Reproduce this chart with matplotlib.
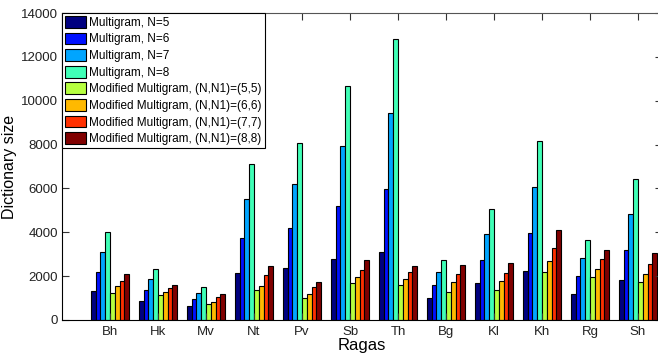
import matplotlib.pyplot as plt
import numpy as np

plt.rcParams['font.family'] = ['Liberation Sans', 'DejaVu Sans']

ragas = ['Bh', 'Hk', 'Mv', 'Nt', 'Pv', 'Sb', 'Th', 'Bg', 'Kl', 'Kh', 'Rg', 'Sh']

labels = [
    'Multigram, N=5',
    'Multigram, N=6',
    'Multigram, N=7',
    'Multigram, N=8',
    'Modified Multigram, (N,N1)=(5,5)',
    'Modified Multigram, (N,N1)=(6,6)',
    'Modified Multigram, (N,N1)=(7,7)',
    'Modified Multigram, (N,N1)=(8,8)',
]

multigram_5 = [1330, 870, 640, 2130, 2370, 2780, 3100, 1020, 1670, 2220, 1200, 1810]
multigram_6 = [2170, 1380, 960, 3750, 4210, 5180, 5970, 1610, 2740, 3980, 1990, 3210]
multigram_7 = [3100, 1850, 1250, 5520, 6220, 7930, 9420, 2170, 3940, 6060, 2830, 4830]
multigram_8 = [4000, 2320, 1490, 7100, 8060, 10670, 12810, 2740, 5060, 8160, 3660, 6440]
modified_5 = [1230, 1140, 730, 1380, 1000, 1700, 1610, 1280, 1380, 2170, 1950, 1750]
modified_6 = [1540, 1280, 820, 1570, 1200, 1950, 1880, 1720, 1760, 2690, 2320, 2080]
modified_7 = [1760, 1470, 1060, 2040, 1490, 2260, 2170, 2080, 2130, 3280, 2780, 2550]
modified_8 = [2080, 1610, 1200, 2450, 1750, 2720, 2450, 2510, 2600, 4090, 3210, 3060]

series = [multigram_5, multigram_6, multigram_7, multigram_8,
          modified_5, modified_6, modified_7, modified_8]

colors = plt.cm.jet(np.linspace(0, 1, len(series)))

fig = plt.figure(figsize=(6.58, 3.54), dpi=100)
# axes runs slightly past the right edge, like the cropped original
ax = fig.add_axes([62 / 658, 34 / 354, 600 / 658, 307 / 354])

x = np.arange(1, len(ragas) + 1)
width = 0.1
for i, (vals, lab) in enumerate(zip(series, labels)):
    ax.bar(x + (i - 3.5) * width, vals, width, color=colors[i],
           edgecolor='black', linewidth=0.8, label=lab)

ax.set_xlim(0, 12.5)
ax.set_ylim(0, 14000)
ax.set_xticks(x)
ax.set_xticklabels(ragas)
ax.set_yticks(np.arange(0, 14001, 2000))
ax.tick_params(direction='in', length=5, width=0.8, color='#333333',
               top=True, right=True, labelsize=9.5, labelcolor='#222222')
ax.tick_params(axis='y', pad=3)
ax.tick_params(axis='x', pad=4)
for side in ['left', 'bottom']:
    ax.spines[side].set_color('black')
for side in ['top', 'right']:
    ax.spines[side].set_color('#555555')

ax.set_xlabel('Ragas', fontsize=12, labelpad=0)
ax.set_ylabel('Dictionary size', fontsize=11.5, labelpad=3)

leg = ax.legend(loc='upper left', borderaxespad=0, fontsize=8.5,
                handlelength=1.8, handleheight=1.15, handletextpad=0.25,
                labelspacing=0.32, borderpad=0.25, fancybox=False,
                framealpha=1)
leg.get_frame().set_edgecolor('black')
leg.get_frame().set_linewidth(0.8)

fig.savefig('out.png', dpi=100)
